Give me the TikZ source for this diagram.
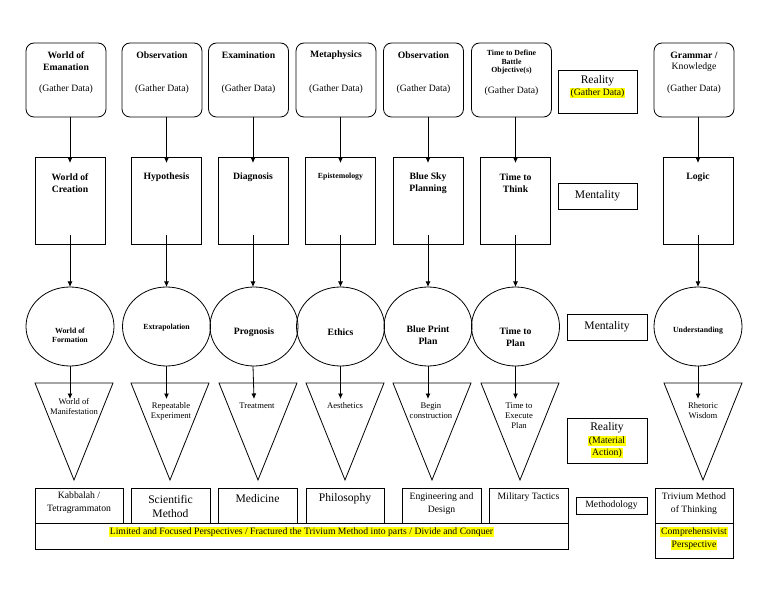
\documentclass[tikz,border=0pt]{standalone}
\usepackage{fontspec}
\setmainfont{Liberation Serif}
\usetikzlibrary{shapes.geometric,arrows.meta,calc}
\definecolor{hly}{RGB}{255,255,0}
\newcommand\hlt[1]{{\setlength{\fboxsep}{0.7pt}\colorbox{hly}{\vphantom{(Ag}#1}}}
\tikzset{
 every node/.style={inner sep=0pt, outer sep=0pt},
 rbox/.style={draw, line width=0.8pt, rounded corners=8pt, minimum width=80pt, minimum height=74pt},
 rectbox/.style={draw, line width=0.8pt, minimum width=70pt, minimum height=87pt},
 ellbox/.style={draw, line width=0.8pt, ellipse, minimum width=88pt, minimum height=79pt},
 plainbox/.style={draw, line width=0.8pt},
 tri/.style={draw, line width=0.8pt, line join=miter},
 conn/.style={line width=0.8pt, -{Latex[length=5.5pt,width=5pt]}},
 tb/.style={font=\fontsize{9.7}{12}\selectfont\bfseries, align=center},
 tbs/.style={font=\fontsize{7.8}{8.5}\selectfont\bfseries, align=center},
 tbe/.style={font=\fontsize{7.8}{9}\selectfont\bfseries, align=center},
 tr/.style={font=\fontsize{9.7}{13}\selectfont, align=center},
 trs/.style={font=\fontsize{8.6}{10}\selectfont, align=center},
 tl/.style={font=\fontsize{11.6}{14}\selectfont, align=center},
}
\begin{document}
\begin{tikzpicture}[x=1pt,y=-1pt]
\useasboundingbox (0,0) rectangle (768,593);

% ---------- top row: rounded boxes ----------
\node[rbox] (a1) at (66,80) {};
\node[rbox] (a2) at (162,80) {};
\node[rbox] (a3) at (248.5,80) {};
\node[rbox] (a4) at (336,80) {};
\node[rbox] (a5) at (423.5,80) {};
\node[rbox] (a6) at (511.5,80) {};
\node[rbox] (a7) at (694,80) {};

\node[tb] (a1t) at (66,61) {World of\\Emanation};
\node[tb] (a2t) at (162,55) {Observation};
\node[tb] (a3t) at (248.5,55) {Examination};
\node[tb] (a4t) at (336,55) {Metaphysics};
\node[tb] (a5t) at (423.5,55) {Observation};
\node[tbs] (a6t) at (511.5,62.5) {Time to Define\\Battle\\Objective(s)};
\node[tb] (a7t) at (694,55) {Grammar /};
\node[tr] (a7k) at (694,67) {Knowledge};

\node[tr] (a1g) at (66,89) {(Gather Data)};
\node[tr] (a2g) at (162,89) {(Gather Data)};
\node[tr] (a3g) at (248.5,89) {(Gather Data)};
\node[tr] (a4g) at (336,89) {(Gather Data)};
\node[tr] (a5g) at (423.5,89) {(Gather Data)};
\node[tr] (a6g) at (511.5,91) {(Gather Data)};
\node[tr] (a7g) at (694,89) {(Gather Data)};

% ---------- second row: rectangles ----------
\node[rectbox] (r1) at (70,200.5) {};
\node[rectbox] (r2) at (166.5,200.5) {};
\node[rectbox] (r3) at (253,200.5) {};
\node[rectbox] (r4) at (340.5,200.5) {};
\node[rectbox] (r5) at (428,200.5) {};
\node[rectbox] (r6) at (515.5,200.5) {};
\node[rectbox] (r7) at (698,200.5) {};

\node[tb] (r1t) at (70,183) {World of\\Creation};
\node[tb] (r2t) at (166.5,177) {Hypothesis};
\node[tb] (r3t) at (253,177) {Diagnosis};
\node[tbe] (r4t) at (340.5,177) {Epistemology};
\node[tb] (r5t) at (428,183) {Blue Sky\\Planning};
\node[tb] (r6t) at (515.5,183) {Time to\\Think};
\node[tb] (r7t) at (698,177) {Logic};

% ---------- third row: ellipses ----------
\node[ellbox] (e1) at (70,326.5) {};
\node[ellbox] (e2) at (166.5,326.5) {};
\node[ellbox] (e3) at (254,326.5) {};
\node[ellbox] (e4) at (340.5,326.5) {};
\node[ellbox] (e5) at (428,326.5) {};
\node[ellbox] (e6) at (515.5,326.5) {};
\node[ellbox] (e7) at (698,326.5) {};

\node[tbe] (e1t) at (70,335.5) {World of\\Formation};
\node[tbe] (e2t) at (166.5,328) {Extrapolation};
\node[tb] (e3t) at (254,332) {Prognosis};
\node[tb] (e4t) at (340.5,332) {Ethics};
\node[tb] (e5t) at (428,335) {Blue Print\\Plan};
\node[tb] (e6t) at (515.5,337.5) {Time to\\Plan};
\node[tbe] (e7t) at (698,331) {Understanding};

% ---------- fourth row: triangles ----------
\draw[tri] (35,383) -- (113,383) -- (74,480) -- cycle;
\draw[tri] (131,383) -- (209,383) -- (170,480) -- cycle;
\draw[tri] (219,383) -- (297,383) -- (258,480) -- cycle;
\draw[tri] (306,383) -- (384,383) -- (345,480) -- cycle;
\draw[tri] (393,383) -- (471,383) -- (432,480) -- cycle;
\draw[tri] (481,383) -- (559,383) -- (520,480) -- cycle;
\draw[tri] (664,383) -- (742,383) -- (703,480) -- cycle;

\node[trs] (t1t) at (74,407) {World of\\Manifestation};
\node[trs] (t2t) at (171,411) {Repeatable\\Experiment};
\node[trs] (t3t) at (257,406) {Treatment};
\node[trs] (t4t) at (345,406) {Aesthetics};
\node[trs] (t5t) at (431,411) {Begin\\construction};
\node[trs] (t6t) at (519,416) {Time to\\Execute\\Plan};
\node[trs] (t7t) at (703,411) {Rhetoric\\Wisdom};

% arrow end points inside the triangles
\coordinate (t1) at (70,399);
\coordinate (t2) at (166.5,399);
\coordinate (t3) at (254,399);
\coordinate (t4) at (340.5,399);
\coordinate (t5) at (428,399);
\coordinate (t6) at (515.5,399);
\coordinate (t7) at (698,399);

% ---------- connectors ----------
\foreach \i in {1,...,7}{
  \draw[conn] (a\i.south -| r\i.north) -- ($(r\i.north)+(0,6)$);
  \draw[conn] ($(r\i.south)+(0,-9)$) -- (e\i.north -| r\i.north);
  \draw[conn] (e\i.south -| r\i.north) -- (t\i);
}

% ---------- right side labels ----------
\node[plainbox, minimum width=79pt, minimum height=43pt] (lab1) at (597.5,91.5) {};
\node[tl] (lab1a) at (597.5,81) {Reality};
\node[tr] (lab1b) at (597.5,93) {\hlt{(Gather Data)}};

\node[plainbox, minimum width=79pt, minimum height=26pt, tl] (lab2) at (597.5,196) {Mentality};
\node[plainbox, minimum width=80pt, minimum height=26pt, tl] (lab3) at (607,327) {Mentality};

\node[plainbox, minimum width=80pt, minimum height=45pt] (lab4) at (607,440.5) {};
\node[tl] (lab4a) at (607,428) {Reality};
\node[tr, font=\fontsize{9.7}{12}\selectfont] (lab4b) at (607,447) {\hlt{(Material}\\\hlt{Action)}};

\node[plainbox, minimum width=71pt, minimum height=17pt, tr] (lab5) at (611.5,505.5) {Methodology};

% ---------- bottom row ----------
\node[plainbox, minimum width=533pt, minimum height=26pt] (wide) at (301.5,536) {};
\node[tr] (widet) at (301.5,532) {\hlt{Limited and Focused Perspectives / Fractured the Trivium Method into parts / Divide and Conquer}};

\node[plainbox, minimum width=88pt, minimum height=35pt] (b1) at (79,505.5) {};
\node[plainbox, minimum width=79pt, minimum height=35pt] (b2) at (170.5,505.5) {};
\node[plainbox, minimum width=79pt, minimum height=35pt] (b3) at (257.5,505.5) {};
\node[plainbox, minimum width=78pt, minimum height=35pt] (b4) at (345,505.5) {};
\node[plainbox, minimum width=79pt, minimum height=35pt] (b5) at (441.5,505.5) {};
\node[plainbox, minimum width=79pt, minimum height=35pt] (b6) at (528.5,505.5) {};

\node[tr] (b1t) at (79,502.5) {Kabbalah /\\Tetragrammaton};
\node[tl] (b2t) at (170.5,506) {Scientific\\Method};
\node[tl] (b3t) at (257.5,499) {Medicine};
\node[tl] (b4t) at (345,499) {Philosophy};
\node[tr] (b5t) at (441.5,503.5) {Engineering and\\Design};
\node[tr] (b6t) at (528.5,497) {Military Tactics};

\node[plainbox, minimum width=78pt, minimum height=35pt] (b7) at (694,505.5) {};
\node[tr] (b7t) at (694,503.5) {Trivium Method\\of Thinking};
\node[plainbox, minimum width=78pt, minimum height=35pt] (b8) at (694,540.5) {};
\node[tr] (b8t) at (694,538.5) {\hlt{Comprehensivist}\\\hlt{Perspective}};

\end{tikzpicture}
\end{document}
